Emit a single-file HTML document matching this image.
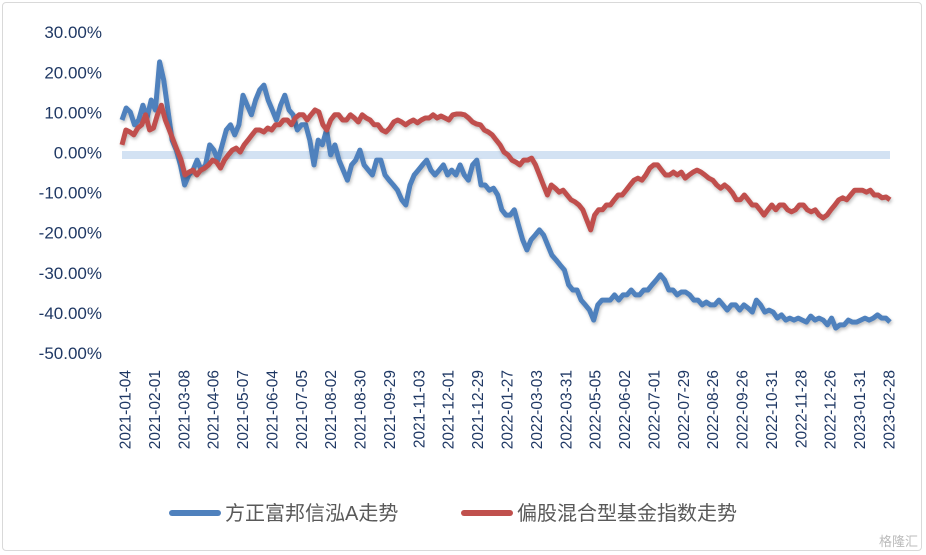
<!DOCTYPE html>
<html><head><meta charset="utf-8">
<style>
html,body{margin:0;padding:0;background:#fff;}
body{width:926px;height:555px;overflow:hidden;position:relative;font-family:"Liberation Sans","Noto Sans CJK SC",sans-serif;}
#frame{position:absolute;left:2px;top:2px;width:918px;height:547px;border:1px solid #d9d9d9;border-radius:4px;}
</style></head>
<body>
<div id="frame"></div>
<svg id="chart" width="926" height="555" style="position:absolute;left:0;top:0">
<defs><filter id="sh" x="-5%" y="-5%" width="110%" height="110%"><feDropShadow dx="1" dy="2" stdDeviation="1.5" flood-color="#000" flood-opacity="0.25"/></filter></defs>
<g id="yaxis"></g>
<g id="xaxis"></g>
<g id="series"></g>
<g id="legend">
<line x1="172" y1="513" x2="218" y2="513" stroke="#4f81bd" stroke-width="6" stroke-linecap="round"/>
<text x="225" y="520" font-size="20" fill="#595959">方正富邦信泓A走势</text>
<line x1="464" y1="513" x2="510" y2="513" stroke="#c0504d" stroke-width="6" stroke-linecap="round"/>
<text x="517" y="520" font-size="20" fill="#595959">偏股混合型基金指数走势</text>
</g>
<text x="918" y="546" font-size="13" fill="#bbbbbb" text-anchor="end">格隆汇</text>
</svg>
<script>
const yTicks=[30,20,10,0,-10,-20,-30,-40,-50];
const xLabels=["2021-01-04","2021-02-01","2021-03-08","2021-04-06","2021-05-07","2021-06-04","2021-07-05","2021-08-02","2021-08-30","2021-09-29","2021-11-03","2021-12-01","2021-12-29","2022-01-27","2022-03-03","2022-03-31","2022-05-05","2022-06-02","2022-07-01","2022-07-29","2022-08-26","2022-09-26","2022-10-31","2022-11-28","2022-12-26","2023-01-31","2023-02-28"];
const fundValues=[8.1,11.1,10.1,6.9,8.1,11.8,8.6,13.1,10.6,22.6,18.1,10.6,3.1,0.6,-3.1,-8.1,-5.6,-4.4,-1.9,-4.4,-3.1,1.9,0.6,-1.9,1.9,5.6,6.9,4.4,6.9,14.3,11.8,9.4,13.1,15.6,16.8,13.1,10.6,8.1,11.8,14.3,10.6,9.4,5.6,6.9,6.9,3.1,-3.1,3.1,1.9,5.6,-0.6,1.9,-1.9,-4.4,-6.9,-3.1,-1.9,0.6,-3.1,-4.4,-5.6,-1.9,-1.9,-5.6,-6.9,-8.1,-9.4,-11.8,-13.1,-8.1,-5.6,-4.4,-3.1,-1.9,-4.4,-5.6,-4.4,-3.1,-5.6,-4.4,-5.6,-3.1,-5.6,-6.9,-3.1,-1.9,-8.1,-8.1,-9.4,-8.9,-10.6,-14.3,-15.6,-15.6,-14.3,-18.1,-21.8,-24.3,-21.8,-20.6,-19.3,-20.6,-23.1,-25.6,-26.8,-28.1,-29.3,-33,-34.3,-34.3,-36.8,-38,-39.3,-41.8,-38,-36.8,-36.8,-36.8,-35.5,-36.8,-35.5,-35.5,-34.3,-35.5,-35.5,-34.3,-34.3,-33,-31.8,-30.5,-31.8,-34.3,-34.3,-35.5,-34.8,-34.8,-35.5,-36.8,-36.8,-38,-37.3,-38,-38,-36.8,-38,-39.3,-38,-38,-39.3,-38,-38.8,-39.8,-36.8,-38,-39.8,-39.3,-39.8,-41.3,-40.5,-41.8,-41.3,-41.8,-41.3,-41.8,-42.3,-40.8,-41.8,-41.3,-41.8,-43,-41.3,-43.8,-43,-43,-41.8,-42.3,-42.3,-41.8,-41.3,-41.8,-41.3,-40.5,-41.3,-41.3,-42.3];
const indexValues=[1.9,5.6,5.1,4.4,6.1,6.9,9.4,5.6,6.1,9.4,11.8,8.1,5.6,3.1,0.6,-1.9,-5.6,-4.9,-4.4,-5.6,-4.4,-3.9,-3.1,-1.9,-2.4,-3.9,-1.9,-0.6,0.6,1.1,0.1,1.9,3.1,4.4,5.6,5.6,5.1,6.1,5.6,6.9,6.9,8.1,8.1,6.9,8.6,9.4,9.4,8.1,9.4,10.6,10.1,6.9,5.6,8.1,9.4,9.4,8.1,8.1,9.4,8.6,7.6,9.4,8.6,8.1,6.9,6.9,5.6,5.1,6.1,7.6,8.1,7.6,6.9,7.6,8.1,7.4,8.1,8.6,8.6,9.4,8.6,9.1,8.6,8.1,9.4,9.6,9.6,9.4,8.6,7.6,7.1,6.9,5.6,5.1,4.4,3.1,1.9,0.1,-0.6,-1.9,-2.4,-3.1,-1.9,-1.9,-1.4,-3.1,-5.6,-8.1,-10.6,-8.1,-8.9,-9.9,-9.4,-10.6,-11.8,-12.3,-13.1,-14.3,-16.8,-19.3,-15.6,-14.3,-14.3,-13.1,-13.1,-11.8,-10.6,-10.6,-9.4,-8.1,-6.9,-6.4,-6.9,-5.6,-3.9,-3.1,-3.1,-4.4,-5.6,-5.6,-4.9,-5.6,-4.9,-6.4,-5.6,-4.9,-4.4,-4.9,-5.6,-6.4,-6.9,-8.1,-8.9,-8.1,-8.9,-10.1,-11.8,-11.8,-10.6,-11.8,-13.1,-13.1,-14.3,-15.6,-14.3,-13.1,-14.3,-13.1,-13.1,-14.3,-14.8,-14.3,-13.1,-13.1,-14.3,-14.8,-14.3,-15.6,-16.3,-15.6,-14.3,-13.1,-11.8,-11.3,-11.8,-10.6,-9.4,-9.4,-9.4,-9.9,-9.4,-10.6,-10.6,-11.3,-11.1,-11.8];

const NS='http://www.w3.org/2000/svg';
const X0=122,X1=890;
function yScale(v){return 152.5-v*4.01;}
function xScale(i,n){return X0+(X1-X0)*i/(n-1);}
const yaxis=document.getElementById('yaxis');
yTicks.forEach(t=>{
  const el=document.createElementNS(NS,'text');
  
  
  el.setAttribute('x',102);el.setAttribute('y',yScale(t)+6);
  el.setAttribute('text-anchor','end');el.setAttribute('font-size','17');el.setAttribute('fill','#1f3864');
  el.textContent=t.toFixed(2)+'%';
  yaxis.appendChild(el);
});
const zl=document.createElementNS(NS,'line');


zl.setAttribute('x1',X0);zl.setAttribute('x2',X1);
zl.setAttribute('y1',yScale(0)+2.5);zl.setAttribute('y2',yScale(0)+2.5);
zl.setAttribute('stroke','#d3e2f3');zl.setAttribute('stroke-width','8');
yaxis.appendChild(zl);
const xaxis=document.getElementById('xaxis');
xLabels.forEach((l,i)=>{
  const cx=125+(889-125)*i/(xLabels.length-1);
  const el=document.createElementNS(NS,'text');
  
  
  el.setAttribute('transform','translate('+(cx+5.5)+',370) rotate(-90)');
  el.setAttribute('text-anchor','end');el.setAttribute('font-size','15.5');el.setAttribute('fill','#1f3864');
  el.textContent=l;
  xaxis.appendChild(el);
});
const series=document.getElementById('series');
function draw(vals,color,name){
  const d=vals.map((v,i)=>(i?'L':'M')+xScale(i,vals.length).toFixed(1)+','+yScale(v).toFixed(1)).join('');
  const p=document.createElementNS(NS,'path');
  
  
  p.setAttribute('d',d);p.setAttribute('fill','none');p.setAttribute('stroke',color);
  p.setAttribute('stroke-width','5');p.setAttribute('stroke-linejoin','round');p.setAttribute('filter','url(#sh)');
  series.appendChild(p);
}
draw(fundValues,'#4f81bd','fund-line');
draw(indexValues,'#c0504d','index-line');
</script>
</body></html>
